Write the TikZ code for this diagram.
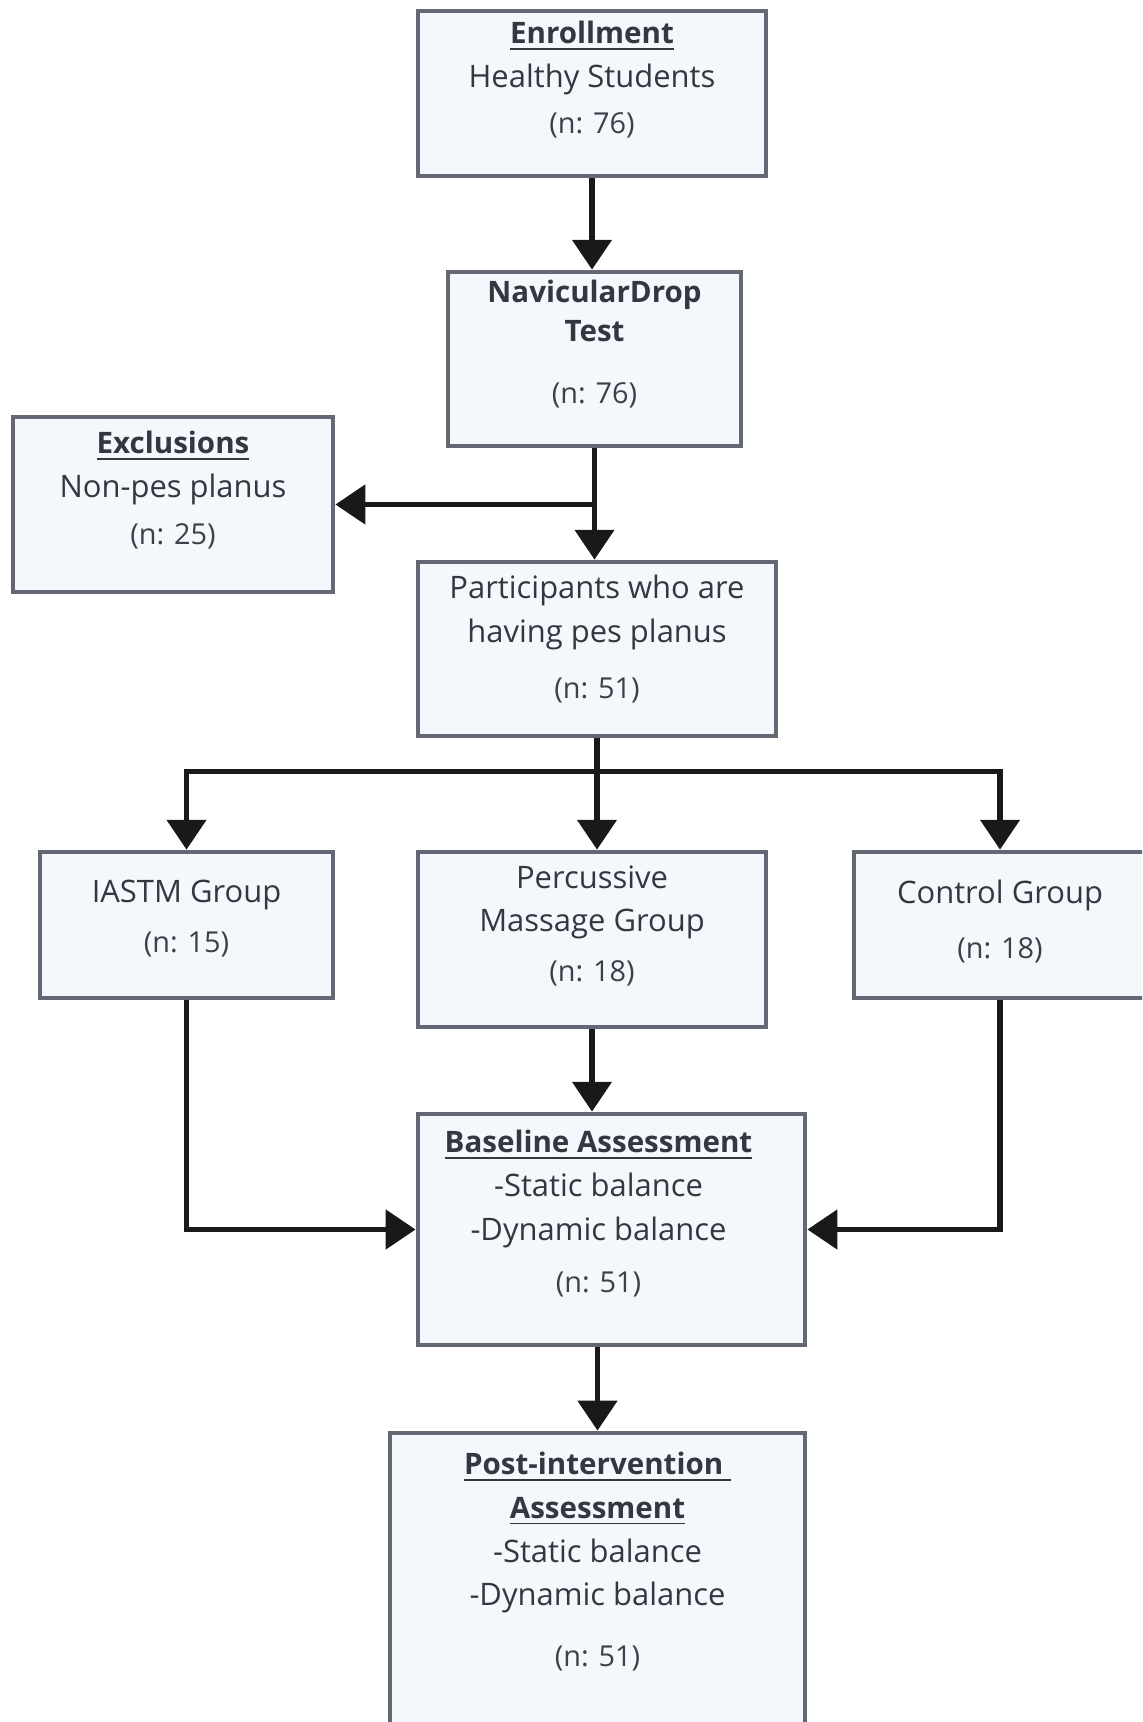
\documentclass[tikz,border=0pt]{standalone}
\usepackage{fontspec}
\setmainfont{Open Sans}
\usepackage{xcolor}
\usetikzlibrary{arrows.meta,positioning,calc}
\definecolor{boxfill}{HTML}{F4F7FB}
\definecolor{boxline}{HTML}{636874}
\definecolor{txtcol}{HTML}{333740}
\definecolor{cntcol}{HTML}{3C4049}
\newcommand{\cnt}[1]{{\fontsize{8.2}{12.4}\selectfont\color{cntcol}(n: #1)}}
\newcommand{\ttl}[1]{\underline{\fontsize{8.4}{12.4}\selectfont\textbf{#1}}}

\begin{document}
\begin{tikzpicture}[
  x=0.01cm, y=0.01cm,
  box/.style={draw=boxline, line width=1.3pt, fill=boxfill, inner sep=0pt},
  txt/.style={align=center, inner sep=0pt, text=txtcol, font=\fontsize{8.8}{12.4}\selectfont},
  ar/.style={-{Triangle[length=8.5pt,width=11pt]}, line width=1.6pt, black!90},
  ln/.style={line width=1.6pt, black!90}
]
\useasboundingbox[fill=white] (0,0) rectangle (1142,-1722);
\clip (0,0) rectangle (1142,-1722);

% boxes
\node[box, minimum width=3.48cm, minimum height=1.65cm] (enr)   at (592,-93.5)   {};
\node[box, minimum width=2.93cm, minimum height=1.74cm] (nav)   at (594.5,-359)  {};
\node[box, minimum width=3.20cm, minimum height=1.75cm] (exc)   at (173,-504.5)  {};
\node[box, minimum width=3.58cm, minimum height=1.74cm] (part)  at (597,-649)    {};
\node[box, minimum width=2.93cm, minimum height=1.46cm] (iastm) at (186.5,-925)  {};
\node[box, minimum width=3.48cm, minimum height=1.75cm] (perc)  at (592,-939.5)  {};
\node[box, minimum width=2.92cm, minimum height=1.46cm] (ctrl)  at (1000,-925)   {};
\node[box, minimum width=3.87cm, minimum height=2.31cm] (base)  at (611.5,-1229.5) {};
\node[box, minimum width=4.15cm, minimum height=3.14cm] (post)  at (597.5,-1590) {};

% texts
\node[txt, below=0.12cm of enr.north] (enrtx) {\ttl{Enrollment}\\Healthy Students\\[0.6pt]\cnt{76}};
\node[txt, below=0.10cm of nav.north] (navtx) {\textbf{\fontsize{8.4}{12.4}\selectfont NavicularDrop}\\[-1.5pt]\textbf{\fontsize{8.4}{12.4}\selectfont Test}\\[5.4pt]\cnt{76}};
\node[txt, below=0.16cm of exc.north] (exctx) {\ttl{Exclusions}\\Non-pes planus\\[1pt]\cnt{25}};
\node[txt, below=0.15cm of part.north] (parttx) {Participants who are\\having pes planus\\[3.4pt]\cnt{51}};
\node[txt, below=0.30cm of iastm.north] (iastmtx) {IASTM Group\\[1.7pt]\cnt{15}};
\node[txt, below=0.15cm of perc.north] (perctx) {Percussive\\Massage Group\\[1.7pt]\cnt{18}};
\node[txt, below=0.30cm of ctrl.north] (ctrltx) {Control Group\\[3pt]\cnt{18}};
\node[txt, below=0.18cm of base.north, xshift=-0.13cm] (basetx) {\ttl{Baseline Assessment}\\-Static balance\\-Dynamic balance\\[2.6pt]\cnt{51}};
\node[txt, below=0.21cm of post.north] (posttx) {\ttl{Post-intervention\ }\\\ttl{Assessment}\\-Static balance\\-Dynamic balance\\[5pt]\cnt{51}};

% connectors
\coordinate (split1) at (nav.south |- exc.east);
\coordinate (split2) at ($(part.south)+(0,-33)$);
\draw[ar] (enr.south) -- (enr.south |- nav.north);
\draw[ln] (nav.south) -- (split1);
\draw[ar] (split1) -- (exc.east);
\draw[ar] (split1) -- (split1 |- part.north);
\draw[ln] (part.south) -- (split2);
\draw[ar] (split2) -| (iastm.north);
\draw[ar] (split2) -| (ctrl.north);
\draw[ar] (split2) -- (split2 |- perc.north);
\draw[ar] (iastm.south) |- (base.west);
\draw[ar] (ctrl.south) |- (base.east);
\draw[ar] (perc.south) -- (perc.south |- base.north);
\draw[ar] (post.north |- base.south) -- (post.north);
\end{tikzpicture}
\end{document}
